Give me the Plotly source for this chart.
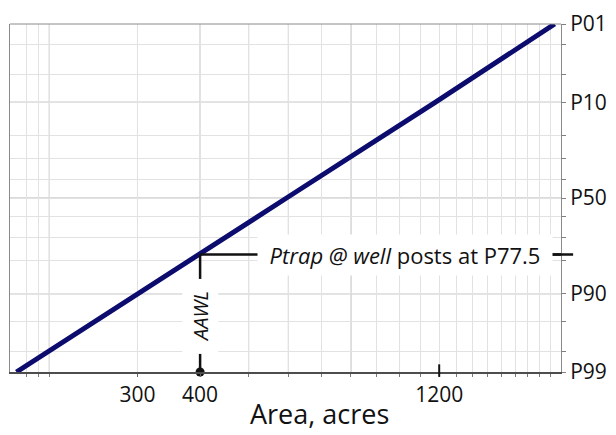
import math
from statistics import NormalDist
import plotly.graph_objects as go

# Exceedance-probability plot of trap area (log-normal on probability paper)
prob_levels = [1, 10, 50, 90, 99]
prob_labels = ["P01", "P10", "P50", "P90", "P99"]
area_acres = [2040, 1180, 595, 300, 172]

aawl_area = 400
aawl_prob = 77.5

x_tick_vals = [300, 400, 1200]
x_grid_major = [200, 300, 400, 500, 600, 800, 1000]
x_grid_minor = [180, 190, 200, 500, 600, 700, 800, 900, 1000, 1100, 1300,
                1400, 1500, 1600, 1700, 1800, 1900, 2000]
y_grid_major = [10, 50, 90]
y_grid_minor = [2, 5, 10, 20, 30, 40, 50, 60, 70, 80, 90, 95, 98]
x_range = [167, 2100]

nd = NormalDist()


def prob_to_z(p):
    """Map an exceedance percentile onto the normal-probability axis."""
    return nd.inv_cdf(1 - p / 100.0)


FONT = "Open Sans"
NAVY = "#0c0c6e"
INK = "#111111"
GRID_DARK = "#b5b5b5"
GRID_LIGHT = "#e2e2e2"

fig = go.Figure()

# fitted distribution line
fig.add_trace(go.Scatter(
    x=area_acres,
    y=[prob_to_z(p) for p in prob_levels],
    mode="lines",
    line=dict(color=NAVY, width=5),
    hoverinfo="skip",
))

# drop line from the distribution to the area axis
z_aawl = prob_to_z(aawl_prob)
fig.add_trace(go.Scatter(
    x=[aawl_area, aawl_area],
    y=[z_aawl, prob_to_z(99)],
    mode="lines",
    line=dict(color=INK, width=2.5),
    hoverinfo="skip",
))
fig.add_trace(go.Scatter(
    x=[aawl_area],
    y=[prob_to_z(99)],
    mode="markers",
    marker=dict(color=INK, size=9),
    cliponaxis=False,
    hoverinfo="skip",
))

fig.update_layout(
    width=616,
    height=435,
    margin=dict(l=9, r=48, t=15, b=63),
    paper_bgcolor="white",
    plot_bgcolor="white",
    showlegend=False,
    font=dict(family=FONT, color=INK, size=20),
    xaxis=dict(
        type="log",
        range=[math.log10(v) for v in x_range],
        tickmode="array",
        tickvals=x_tick_vals,
        ticktext=[str(v) for v in x_tick_vals],
        showgrid=True,
        gridcolor=GRID_LIGHT,
        gridwidth=1,
        ticks="outside",
        ticklen=3,
        tickcolor="#666666",
        showline=True,
        linecolor="#4d4d4d",
        linewidth=2,
        mirror=False,
        zeroline=False,
        tickfont=dict(size=21, family=FONT, color=INK),
        minor=dict(
            tickmode="array",
            tickvals=x_grid_minor,
            showgrid=True,
            gridcolor=GRID_LIGHT,
            gridwidth=1,
            ticks="outside",
            ticklen=3,
            tickcolor="#777777",
        ),
    ),
    yaxis=dict(
        side="right",
        range=[prob_to_z(99), prob_to_z(1)],
        tickmode="array",
        tickvals=[prob_to_z(p) for p in prob_levels],
        ticktext=prob_labels,
        showgrid=False,
        ticks="outside",
        ticklen=4,
        tickcolor="#808080",
        showline=True,
        linecolor="#8a8a8a",
        linewidth=1,
        mirror=True,
        zeroline=False,
        tickfont=dict(size=21, family=FONT, color=INK),
        minor=dict(
            tickmode="array",
            tickvals=[prob_to_z(p) for p in y_grid_minor],
            showgrid=True,
            gridcolor=GRID_LIGHT,
            gridwidth=1,
            ticks="outside",
            ticklen=4,
            tickcolor="#808080",
        ),
    ),
)

shapes = []
# heavier grid lines
for p in y_grid_major:
    shapes.append(dict(type="line", xref="paper", yref="y", x0=0, x1=1,
                       y0=prob_to_z(p), y1=prob_to_z(p), layer="below",
                       line=dict(color=GRID_DARK, width=1)))
for a in x_grid_major:
    shapes.append(dict(type="line", xref="x", yref="paper", x0=a, x1=a,
                       y0=0, y1=1, layer="below",
                       line=dict(color=GRID_DARK, width=1)))
# top border
shapes.append(dict(type="line", xref="paper", yref="paper", x0=0, x1=1,
                   y0=1, y1=1, line=dict(color="#8a8a8a", width=1)))
# leader from the distribution across to the label and beyond the axis
shapes.append(dict(type="line", xref="x", yref="y", x0=aawl_area, x1=2250,
                   y0=z_aawl, y1=z_aawl, line=dict(color=INK, width=2.5)))
shapes.append(dict(type="line", xref="paper", yref="y", x0=0.98, x1=1.022,
                   y0=z_aawl, y1=z_aawl, line=dict(color=INK, width=2.5)))
# emphasised tick at 1200
shapes.append(dict(type="line", xref="x", yref="paper", x0=1200, x1=1200,
                   y0=-0.014, y1=0.022, line=dict(color=INK, width=2)))
fig.update_layout(shapes=shapes)

fig.add_annotation(
    x=0.717, xref="paper", y=z_aawl, yref="y",
    text="<i>Ptrap @ well</i> posts at P77.5",
    showarrow=False,
    font=dict(family=FONT, size=22, color=INK),
    bgcolor="white",
    borderpad=5,
    width=284,
    xanchor="center", yanchor="middle",
)
fig.add_annotation(
    x=math.log10(aawl_area), xref="x", y=0.16, yref="paper",
    text="<i>AAWL</i>",
    textangle=-90,
    showarrow=False,
    font=dict(family=FONT, size=20, color=INK),
    bgcolor="white",
    borderpad=4,
    width=66,
    xanchor="center", yanchor="middle",
)
fig.add_annotation(
    x=0.561, xref="paper", y=-0.1775, yref="paper",
    text="Area, acres",
    showarrow=False,
    font=dict(family=FONT, size=27, color=INK),
    xanchor="center", yanchor="bottom",
)

fig.write_html("out.html")
